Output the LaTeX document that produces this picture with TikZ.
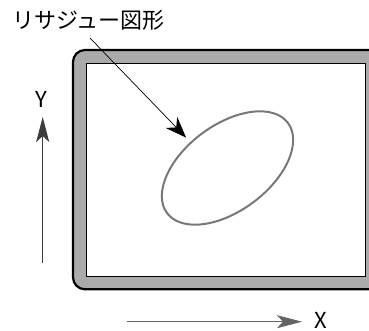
\documentclass[tikz,border=0pt]{standalone}
\usepackage{fontspec}
\newfontfamily\jpfont{Noto Sans CJK JP}
\usetikzlibrary{arrows.meta,shapes.geometric}
\tikzset{
  lbl/.style={font=\jpfont\fontsize{22bp}{24bp}\selectfont, inner sep=0pt},
  axisarrow/.style={line width=1.1bp, -{Stealth[length=25bp,width=13bp,inset=6bp]}},
  leader/.style={line width=0.7bp, black, -{Stealth[length=21bp,width=16bp,inset=7bp]}},
}
\begin{document}
\begin{tikzpicture}[x=1bp,y=-1bp]
\useasboundingbox (0,0) rectangle (369,331);
\clip (0,0) rectangle (369,331);
\fill[white] (0,0) rectangle (369,331);
% frame
\draw[line width=2.2bp, fill={rgb,255:red,170;green,170;blue,170}, rounded corners=12bp] (73,50) rectangle (385,289.3);
\draw[line width=1bp, fill=white] (86,63) rectangle (365,276.7);
% ellipse
\node[draw={rgb,255:red,120;green,120;blue,120}, line width=2bp, ellipse, minimum width=150.8bp, minimum height=85.8bp, inner sep=0pt, rotate=36.7] (liss) at (227.5,168) {};
% label and leader
\node[lbl, anchor=west] (title) at (12,20.5) {リサジュー図形};
\coordinate (ls) at (90,38);
\coordinate (lt) at (186,137.5);
\draw[leader] (ls) -- (lt);
% axes
\node[lbl] (ylab) at (41.7,99.5) {Y};
\coordinate (y0) at (42.7,263);
\coordinate (y1) at (42.7,117);
\draw[axisarrow, draw={rgb,255:red,60;green,60;blue,60}] (y0) -- (y1);
\node[lbl] (xlab) at (321,320.5) {X};
\coordinate (x0) at (126.7,321.7);
\coordinate (x1) at (302,321.7);
\draw[axisarrow, draw={rgb,255:red,100;green,100;blue,100}] (x0) -- (x1);
\end{tikzpicture}
\end{document}
